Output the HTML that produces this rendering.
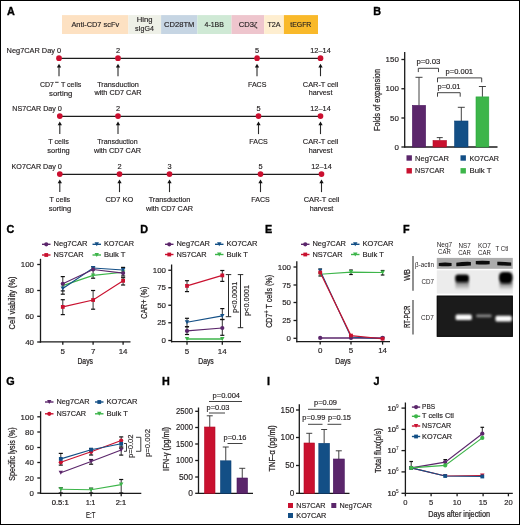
<!DOCTYPE html>
<html><head><meta charset="utf-8"><style>
html,body{margin:0;padding:0;background:#fff;}
svg{display:block;will-change:transform;}
text{font-family:"Liberation Sans",sans-serif;}
</style></head><body>
<svg width="520" height="525" viewBox="0 0 520 525">
<rect x="0" y="0" width="520" height="525" fill="#fff"/>
<rect x="0.5" y="0.5" width="519" height="524" fill="none" stroke="#000" stroke-width="1"/>
<text x="7.1" y="14.8" font-size="10.8" text-anchor="start" fill="#000" font-weight="bold" stroke="#000" stroke-width="0.35">A</text>
<text x="373.2" y="14.8" font-size="10.8" text-anchor="start" fill="#000" font-weight="bold" stroke="#000" stroke-width="0.35">B</text>
<text x="6.4" y="232.9" font-size="10.8" text-anchor="start" fill="#000" font-weight="bold" stroke="#000" stroke-width="0.35">C</text>
<text x="140.2" y="232.9" font-size="10.8" text-anchor="start" fill="#000" font-weight="bold" stroke="#000" stroke-width="0.35">D</text>
<text x="265" y="232.9" font-size="10.8" text-anchor="start" fill="#000" font-weight="bold" stroke="#000" stroke-width="0.35">E</text>
<text x="402.9" y="232.9" font-size="10.8" text-anchor="start" fill="#000" font-weight="bold" stroke="#000" stroke-width="0.35">F</text>
<text x="6.3" y="385.3" font-size="10.8" text-anchor="start" fill="#000" font-weight="bold" stroke="#000" stroke-width="0.35">G</text>
<text x="162.1" y="385.3" font-size="10.8" text-anchor="start" fill="#000" font-weight="bold" stroke="#000" stroke-width="0.35">H</text>
<text x="267.1" y="385.3" font-size="10.8" text-anchor="start" fill="#000" font-weight="bold" stroke="#000" stroke-width="0.35">I</text>
<text x="373.6" y="385.3" font-size="10.8" text-anchor="start" fill="#000" font-weight="bold" stroke="#000" stroke-width="0.35">J</text>
<rect x="62" y="15.1" width="66.4" height="18.9" fill="#fde1c2"/>
<rect x="128.4" y="15.1" width="32.69999999999999" height="18.9" fill="#eef0e7"/>
<rect x="161.1" y="15.1" width="36.30000000000001" height="18.9" fill="#c6d5e3"/>
<rect x="197.4" y="15.1" width="34.099999999999994" height="18.9" fill="#cfe9d5"/>
<rect x="231.5" y="15.1" width="32.69999999999999" height="18.9" fill="#eec5cd"/>
<rect x="264.2" y="15.1" width="19.69999999999999" height="18.9" fill="#feeed0"/>
<rect x="283.9" y="15.1" width="34.10000000000002" height="18.9" fill="#f9b92a"/>
<text x="95.3" y="26.8" font-size="7.92" text-anchor="middle" fill="#231f20" stroke="#231f20" stroke-width="0.16" textLength="47.8" lengthAdjust="spacingAndGlyphs" >Anti-CD7 scFv</text>
<text x="144.7" y="22.4" font-size="7.92" text-anchor="middle" fill="#231f20" stroke="#231f20" stroke-width="0.16" textLength="15.8" lengthAdjust="spacingAndGlyphs" >Hing</text>
<text x="144.5" y="30.9" font-size="7.92" text-anchor="middle" fill="#231f20" stroke="#231f20" stroke-width="0.16" textLength="18.8" lengthAdjust="spacingAndGlyphs" >sIgG4</text>
<text x="179.2" y="26.8" font-size="7.92" text-anchor="middle" fill="#231f20" stroke="#231f20" stroke-width="0.16" textLength="30.3" lengthAdjust="spacingAndGlyphs" >CD28TM</text>
<text x="214.2" y="26.8" font-size="7.92" text-anchor="middle" fill="#231f20" stroke="#231f20" stroke-width="0.16" textLength="19.4" lengthAdjust="spacingAndGlyphs" >4-1BB</text>
<text x="248" y="26.8" font-size="7.92" text-anchor="middle" fill="#231f20" stroke="#231f20" stroke-width="0.16" textLength="18.6" lengthAdjust="spacingAndGlyphs" >CD3ζ</text>
<text x="274" y="26.8" font-size="7.92" text-anchor="middle" fill="#231f20" stroke="#231f20" stroke-width="0.16" textLength="13.2" lengthAdjust="spacingAndGlyphs" >T2A</text>
<text x="300.8" y="26.8" font-size="7.92" text-anchor="middle" fill="#231f20" stroke="#231f20" stroke-width="0.16" textLength="21" lengthAdjust="spacingAndGlyphs" >tEGFR</text>
<line x1="59" y1="58.45" x2="320.5" y2="58.45" stroke="#1c1c1c" stroke-width="1.2"/>
<circle cx="59" cy="58.2" r="2.85" fill="#cb0f2f"/>
<text x="59" y="52.800000000000004" font-size="7.38" text-anchor="middle" fill="#231f20" stroke="#231f20" stroke-width="0.16" >0</text>
<line x1="59" y1="66.7" x2="59" y2="76.2" stroke="#2a2a2a" stroke-width="1.1"/>
<polygon points="56.85,67.4 61.15,67.4 59,63.7" fill="#111"/>
<circle cx="118" cy="58.2" r="2.85" fill="#cb0f2f"/>
<text x="118" y="52.800000000000004" font-size="7.38" text-anchor="middle" fill="#231f20" stroke="#231f20" stroke-width="0.16" >2</text>
<line x1="118" y1="66.7" x2="118" y2="76.2" stroke="#2a2a2a" stroke-width="1.1"/>
<polygon points="115.85,67.4 120.15,67.4 118,63.7" fill="#111"/>
<circle cx="257" cy="58.2" r="2.85" fill="#cb0f2f"/>
<text x="257" y="52.800000000000004" font-size="7.38" text-anchor="middle" fill="#231f20" stroke="#231f20" stroke-width="0.16" >5</text>
<line x1="257" y1="66.7" x2="257" y2="76.2" stroke="#2a2a2a" stroke-width="1.1"/>
<polygon points="254.85,67.4 259.15,67.4 257,63.7" fill="#111"/>
<circle cx="320.5" cy="58.2" r="2.85" fill="#cb0f2f"/>
<text x="320.5" y="52.800000000000004" font-size="7.38" text-anchor="middle" fill="#231f20" stroke="#231f20" stroke-width="0.16" >12–14</text>
<line x1="320.5" y1="66.7" x2="320.5" y2="76.2" stroke="#2a2a2a" stroke-width="1.1"/>
<polygon points="318.35,67.4 322.65,67.4 320.5,63.7" fill="#111"/>
<text x="55" y="52.800000000000004" font-size="7.38" text-anchor="end" fill="#231f20" stroke="#231f20" stroke-width="0.16" textLength="48.4" lengthAdjust="spacingAndGlyphs" >Neg7CAR Day</text>
<text x="40.1" y="87.4" font-size="7.38" text-anchor="start" fill="#231f20" stroke="#231f20" stroke-width="0.16" textLength="13.9" lengthAdjust="spacingAndGlyphs" >CD7</text>
<line x1="55.1" y1="82.30000000000001" x2="58.6" y2="82.30000000000001" stroke="#231f20" stroke-width="0.9"/>
<text x="60.900000000000006" y="87.4" font-size="7.38" text-anchor="start" fill="#231f20" stroke="#231f20" stroke-width="0.16" textLength="20.4" lengthAdjust="spacingAndGlyphs" >T cells</text>
<text x="60.7" y="95.5" font-size="7.38" text-anchor="middle" fill="#231f20" stroke="#231f20" stroke-width="0.16" textLength="23.3" lengthAdjust="spacingAndGlyphs" >sorting</text>
<text x="118" y="86.5" font-size="7.38" text-anchor="middle" fill="#231f20" stroke="#231f20" stroke-width="0.16" textLength="41.7" lengthAdjust="spacingAndGlyphs" >Transduction</text>
<text x="118" y="94.6" font-size="7.38" text-anchor="middle" fill="#231f20" stroke="#231f20" stroke-width="0.16" textLength="47.1" lengthAdjust="spacingAndGlyphs" >with CD7 CAR</text>
<text x="257.2" y="86.5" font-size="7.38" text-anchor="middle" fill="#231f20" stroke="#231f20" stroke-width="0.16" textLength="18.4" lengthAdjust="spacingAndGlyphs" >FACS</text>
<text x="320.6" y="86.5" font-size="7.38" text-anchor="middle" fill="#231f20" stroke="#231f20" stroke-width="0.16" textLength="35.6" lengthAdjust="spacingAndGlyphs" >CAR-T cell</text>
<text x="320.6" y="94.6" font-size="7.38" text-anchor="middle" fill="#231f20" stroke="#231f20" stroke-width="0.16" textLength="23.6" lengthAdjust="spacingAndGlyphs" >harvest</text>
<line x1="59.8" y1="116.35" x2="320.5" y2="116.35" stroke="#1c1c1c" stroke-width="1.2"/>
<circle cx="59.8" cy="116.1" r="2.85" fill="#cb0f2f"/>
<text x="59.8" y="110.69999999999999" font-size="7.38" text-anchor="middle" fill="#231f20" stroke="#231f20" stroke-width="0.16" >0</text>
<line x1="59.8" y1="124.6" x2="59.8" y2="134.1" stroke="#2a2a2a" stroke-width="1.1"/>
<polygon points="57.65,125.3 61.949999999999996,125.3 59.8,121.6" fill="#111"/>
<circle cx="118" cy="116.1" r="2.85" fill="#cb0f2f"/>
<text x="118" y="110.69999999999999" font-size="7.38" text-anchor="middle" fill="#231f20" stroke="#231f20" stroke-width="0.16" >2</text>
<line x1="118" y1="124.6" x2="118" y2="134.1" stroke="#2a2a2a" stroke-width="1.1"/>
<polygon points="115.85,125.3 120.15,125.3 118,121.6" fill="#111"/>
<circle cx="258.5" cy="116.1" r="2.85" fill="#cb0f2f"/>
<text x="258.5" y="110.69999999999999" font-size="7.38" text-anchor="middle" fill="#231f20" stroke="#231f20" stroke-width="0.16" >5</text>
<line x1="258.5" y1="124.6" x2="258.5" y2="134.1" stroke="#2a2a2a" stroke-width="1.1"/>
<polygon points="256.35,125.3 260.65,125.3 258.5,121.6" fill="#111"/>
<circle cx="320.5" cy="116.1" r="2.85" fill="#cb0f2f"/>
<text x="320.5" y="110.69999999999999" font-size="7.38" text-anchor="middle" fill="#231f20" stroke="#231f20" stroke-width="0.16" >12–14</text>
<line x1="320.5" y1="124.6" x2="320.5" y2="134.1" stroke="#2a2a2a" stroke-width="1.1"/>
<polygon points="318.35,125.3 322.65,125.3 320.5,121.6" fill="#111"/>
<text x="55.8" y="110.69999999999999" font-size="7.38" text-anchor="end" fill="#231f20" stroke="#231f20" stroke-width="0.16" textLength="43.5" lengthAdjust="spacingAndGlyphs" >NS7CAR Day</text>
<text x="58.5" y="144.4" font-size="7.38" text-anchor="middle" fill="#231f20" stroke="#231f20" stroke-width="0.16" textLength="20.7" lengthAdjust="spacingAndGlyphs" >T cells</text>
<text x="58.5" y="152.5" font-size="7.38" text-anchor="middle" fill="#231f20" stroke="#231f20" stroke-width="0.16" textLength="22.5" lengthAdjust="spacingAndGlyphs" >sorting</text>
<text x="117.5" y="144.4" font-size="7.38" text-anchor="middle" fill="#231f20" stroke="#231f20" stroke-width="0.16" textLength="40.4" lengthAdjust="spacingAndGlyphs" >Transduction</text>
<text x="117.5" y="152.5" font-size="7.38" text-anchor="middle" fill="#231f20" stroke="#231f20" stroke-width="0.16" textLength="47.1" lengthAdjust="spacingAndGlyphs" >with CD7 CAR</text>
<text x="258.5" y="144.4" font-size="7.38" text-anchor="middle" fill="#231f20" stroke="#231f20" stroke-width="0.16" textLength="18.4" lengthAdjust="spacingAndGlyphs" >FACS</text>
<text x="320.6" y="144.4" font-size="7.38" text-anchor="middle" fill="#231f20" stroke="#231f20" stroke-width="0.16" textLength="35.6" lengthAdjust="spacingAndGlyphs" >CAR-T cell</text>
<text x="320.6" y="152.5" font-size="7.38" text-anchor="middle" fill="#231f20" stroke="#231f20" stroke-width="0.16" textLength="23.6" lengthAdjust="spacingAndGlyphs" >harvest</text>
<line x1="59.8" y1="174.35" x2="321.5" y2="174.35" stroke="#1c1c1c" stroke-width="1.2"/>
<circle cx="59.8" cy="174.1" r="2.85" fill="#cb0f2f"/>
<text x="59.8" y="168.7" font-size="7.38" text-anchor="middle" fill="#231f20" stroke="#231f20" stroke-width="0.16" >0</text>
<line x1="59.8" y1="182.6" x2="59.8" y2="192.1" stroke="#2a2a2a" stroke-width="1.1"/>
<polygon points="57.65,183.29999999999998 61.949999999999996,183.29999999999998 59.8,179.6" fill="#111"/>
<circle cx="119.5" cy="174.1" r="2.85" fill="#cb0f2f"/>
<text x="119.5" y="168.7" font-size="7.38" text-anchor="middle" fill="#231f20" stroke="#231f20" stroke-width="0.16" >2</text>
<line x1="119.5" y1="182.6" x2="119.5" y2="192.1" stroke="#2a2a2a" stroke-width="1.1"/>
<polygon points="117.35,183.29999999999998 121.65,183.29999999999998 119.5,179.6" fill="#111"/>
<circle cx="169.5" cy="174.1" r="2.85" fill="#cb0f2f"/>
<text x="169.5" y="168.7" font-size="7.38" text-anchor="middle" fill="#231f20" stroke="#231f20" stroke-width="0.16" >3</text>
<line x1="169.5" y1="182.6" x2="169.5" y2="192.1" stroke="#2a2a2a" stroke-width="1.1"/>
<polygon points="167.35,183.29999999999998 171.65,183.29999999999998 169.5,179.6" fill="#111"/>
<circle cx="260.5" cy="174.1" r="2.85" fill="#cb0f2f"/>
<text x="260.5" y="168.7" font-size="7.38" text-anchor="middle" fill="#231f20" stroke="#231f20" stroke-width="0.16" >5</text>
<line x1="260.5" y1="182.6" x2="260.5" y2="192.1" stroke="#2a2a2a" stroke-width="1.1"/>
<polygon points="258.35,183.29999999999998 262.65,183.29999999999998 260.5,179.6" fill="#111"/>
<circle cx="321.5" cy="174.1" r="2.85" fill="#cb0f2f"/>
<text x="321.5" y="168.7" font-size="7.38" text-anchor="middle" fill="#231f20" stroke="#231f20" stroke-width="0.16" >12–14</text>
<line x1="321.5" y1="182.6" x2="321.5" y2="192.1" stroke="#2a2a2a" stroke-width="1.1"/>
<polygon points="319.35,183.29999999999998 323.65,183.29999999999998 321.5,179.6" fill="#111"/>
<text x="55.8" y="168.7" font-size="7.38" text-anchor="end" fill="#231f20" stroke="#231f20" stroke-width="0.16" textLength="44.2" lengthAdjust="spacingAndGlyphs" >KO7CAR Day</text>
<text x="59.9" y="202.4" font-size="7.38" text-anchor="middle" fill="#231f20" stroke="#231f20" stroke-width="0.16" textLength="20.6" lengthAdjust="spacingAndGlyphs" >T cells</text>
<text x="59.9" y="210.5" font-size="7.38" text-anchor="middle" fill="#231f20" stroke="#231f20" stroke-width="0.16" textLength="22.5" lengthAdjust="spacingAndGlyphs" >sorting</text>
<text x="119.4" y="202.4" font-size="7.38" text-anchor="middle" fill="#231f20" stroke="#231f20" stroke-width="0.16" textLength="27.9" lengthAdjust="spacingAndGlyphs" >CD7 KO</text>
<text x="169.5" y="202.4" font-size="7.38" text-anchor="middle" fill="#231f20" stroke="#231f20" stroke-width="0.16" textLength="41.7" lengthAdjust="spacingAndGlyphs" >Transduction</text>
<text x="169.5" y="210.5" font-size="7.38" text-anchor="middle" fill="#231f20" stroke="#231f20" stroke-width="0.16" textLength="47.1" lengthAdjust="spacingAndGlyphs" >with CD7 CAR</text>
<text x="260.5" y="202.4" font-size="7.38" text-anchor="middle" fill="#231f20" stroke="#231f20" stroke-width="0.16" textLength="18.4" lengthAdjust="spacingAndGlyphs" >FACS</text>
<text x="321.5" y="202.4" font-size="7.38" text-anchor="middle" fill="#231f20" stroke="#231f20" stroke-width="0.16" textLength="35.6" lengthAdjust="spacingAndGlyphs" >CAR-T cell</text>
<text x="321.5" y="210.5" font-size="7.38" text-anchor="middle" fill="#231f20" stroke="#231f20" stroke-width="0.16" textLength="23.6" lengthAdjust="spacingAndGlyphs" >harvest</text>
<line x1="404.7" y1="52" x2="404.7" y2="147.65" stroke="#1a1a1a" stroke-width="1.3"/>
<line x1="401.4" y1="59.5" x2="404.7" y2="59.5" stroke="#1a1a1a" stroke-width="1.3"/>
<text x="398.8" y="62.2" font-size="7.92" text-anchor="end" fill="#231f20" stroke="#231f20" stroke-width="0.16" >150</text>
<line x1="401.4" y1="88.75" x2="404.7" y2="88.75" stroke="#1a1a1a" stroke-width="1.3"/>
<text x="398.8" y="91.45" font-size="7.92" text-anchor="end" fill="#231f20" stroke="#231f20" stroke-width="0.16" >100</text>
<line x1="401.4" y1="118" x2="404.7" y2="118" stroke="#1a1a1a" stroke-width="1.3"/>
<text x="398.8" y="120.7" font-size="7.92" text-anchor="end" fill="#231f20" stroke="#231f20" stroke-width="0.16" >50</text>
<line x1="401.4" y1="147" x2="404.7" y2="147" stroke="#1a1a1a" stroke-width="1.3"/>
<text x="398.8" y="149.7" font-size="7.92" text-anchor="end" fill="#231f20" stroke="#231f20" stroke-width="0.16" >0</text>
<line x1="404.7" y1="147" x2="497.5" y2="147" stroke="#1a1a1a" stroke-width="1.3"/>
<line x1="419.0" y1="105.4" x2="419.0" y2="77.3" stroke="#2e2e2e" stroke-width="0.9"/>
<line x1="415.5" y1="77.3" x2="422.5" y2="77.3" stroke="#2e2e2e" stroke-width="0.9"/>
<rect x="412.4" y="105.4" width="13.200000000000045" height="41.599999999999994" fill="#5b266b" stroke="#4a165f" stroke-width="0.6"/>
<line x1="439.75" y1="140.5" x2="439.75" y2="137.6" stroke="#2e2e2e" stroke-width="0.9"/>
<line x1="436.75" y1="137.6" x2="442.75" y2="137.6" stroke="#2e2e2e" stroke-width="0.9"/>
<rect x="433" y="140.5" width="13.5" height="6.5" fill="#c9112f" stroke="#b30c27" stroke-width="0.6"/>
<line x1="461.3" y1="121" x2="461.3" y2="107.3" stroke="#2e2e2e" stroke-width="0.9"/>
<line x1="457.8" y1="107.3" x2="464.8" y2="107.3" stroke="#2e2e2e" stroke-width="0.9"/>
<rect x="454.6" y="121" width="13.399999999999977" height="26" fill="#134f86" stroke="#0c4277" stroke-width="0.6"/>
<line x1="482.4" y1="96.9" x2="482.4" y2="86.5" stroke="#2e2e2e" stroke-width="0.9"/>
<line x1="478.9" y1="86.5" x2="485.9" y2="86.5" stroke="#2e2e2e" stroke-width="0.9"/>
<rect x="476" y="96.9" width="12.800000000000011" height="50.099999999999994" fill="#3db54a" stroke="#25a538" stroke-width="0.6"/>
<polyline points="418.3,72.1 418.3,68.3 438.5,68.3 438.5,72.1" fill="none" stroke="#2e2e2e" stroke-width="0.9"/>
<text x="428.4" y="64.4" font-size="7.28" text-anchor="middle" fill="#231f20" stroke="#231f20" stroke-width="0.16" textLength="24" lengthAdjust="spacingAndGlyphs" >p=0.03</text>
<polyline points="437.5,82.30000000000001 437.5,77.9 481.7,77.9 481.7,82.30000000000001" fill="none" stroke="#2e2e2e" stroke-width="0.9"/>
<text x="459.3" y="74" font-size="7.28" text-anchor="middle" fill="#231f20" stroke="#231f20" stroke-width="0.16" textLength="27.5" lengthAdjust="spacingAndGlyphs" >p=0.001</text>
<polyline points="437.5,96.7 437.5,92.7 460.2,92.7 460.2,96.7" fill="none" stroke="#2e2e2e" stroke-width="0.9"/>
<text x="449" y="88.5" font-size="7.28" text-anchor="middle" fill="#231f20" stroke="#231f20" stroke-width="0.16" textLength="23" lengthAdjust="spacingAndGlyphs" >p=0.01</text>
<text x="380" y="100" font-size="8.4" text-anchor="middle" fill="#231f20" stroke="#231f20" stroke-width="0.24" textLength="62" lengthAdjust="spacingAndGlyphs" transform="rotate(-90 380 100)" >Folds of expansion</text>
<rect x="406.5" y="155.3" width="5.4" height="5.4" fill="#5b266b"/>
<text x="415" y="160.5" font-size="7.49" text-anchor="start" fill="#231f20" stroke="#231f20" stroke-width="0.16" textLength="34" lengthAdjust="spacingAndGlyphs" >Neg7CAR</text>
<rect x="460.5" y="155.3" width="5.4" height="5.4" fill="#134f86"/>
<text x="469.5" y="160.5" font-size="7.49" text-anchor="start" fill="#231f20" stroke="#231f20" stroke-width="0.16" textLength="29.5" lengthAdjust="spacingAndGlyphs" >KO7CAR</text>
<rect x="406.5" y="168.10000000000002" width="5.4" height="5.4" fill="#c9112f"/>
<text x="415" y="173.3" font-size="7.49" text-anchor="start" fill="#231f20" stroke="#231f20" stroke-width="0.16" textLength="29.5" lengthAdjust="spacingAndGlyphs" >NS7CAR</text>
<rect x="460.5" y="168.10000000000002" width="5.4" height="5.4" fill="#3db54a"/>
<text x="469.5" y="173.3" font-size="7.49" text-anchor="start" fill="#231f20" stroke="#231f20" stroke-width="0.16" textLength="22" lengthAdjust="spacingAndGlyphs" >Bulk T</text>
<line x1="40.5" y1="258.8" x2="40.5" y2="342.65" stroke="#1a1a1a" stroke-width="1.3"/>
<line x1="37.2" y1="264.5" x2="40.5" y2="264.5" stroke="#1a1a1a" stroke-width="1.3"/>
<text x="34" y="267.2" font-size="7.92" text-anchor="end" fill="#231f20" stroke="#231f20" stroke-width="0.16" >100</text>
<line x1="37.2" y1="290.5" x2="40.5" y2="290.5" stroke="#1a1a1a" stroke-width="1.3"/>
<text x="34" y="293.2" font-size="7.92" text-anchor="end" fill="#231f20" stroke="#231f20" stroke-width="0.16" >80</text>
<line x1="37.2" y1="316.3" x2="40.5" y2="316.3" stroke="#1a1a1a" stroke-width="1.3"/>
<text x="34" y="319.0" font-size="7.92" text-anchor="end" fill="#231f20" stroke="#231f20" stroke-width="0.16" >60</text>
<line x1="37.2" y1="342" x2="40.5" y2="342" stroke="#1a1a1a" stroke-width="1.3"/>
<text x="34" y="344.7" font-size="7.92" text-anchor="end" fill="#231f20" stroke="#231f20" stroke-width="0.16" >40</text>
<line x1="39.85" y1="341.8" x2="130.5" y2="341.8" stroke="#1a1a1a" stroke-width="1.3"/>
<line x1="62.8" y1="341.8" x2="62.8" y2="344.8" stroke="#1a1a1a" stroke-width="1.3"/>
<text x="62.8" y="353.5" font-size="7.97" text-anchor="middle" fill="#231f20" stroke="#231f20" stroke-width="0.16" >5</text>
<line x1="93.1" y1="341.8" x2="93.1" y2="344.8" stroke="#1a1a1a" stroke-width="1.3"/>
<text x="93.1" y="353.5" font-size="7.97" text-anchor="middle" fill="#231f20" stroke="#231f20" stroke-width="0.16" >7</text>
<line x1="123.1" y1="341.8" x2="123.1" y2="344.8" stroke="#1a1a1a" stroke-width="1.3"/>
<text x="123.1" y="353.5" font-size="7.97" text-anchor="middle" fill="#231f20" stroke="#231f20" stroke-width="0.16" >14</text>
<text x="14.7" y="302.9" font-size="8.4" text-anchor="middle" fill="#231f20" stroke="#231f20" stroke-width="0.24" textLength="53" lengthAdjust="spacingAndGlyphs" transform="rotate(-90 14.7 302.9)" >Cell viability (%)</text>
<text x="85.2" y="363.7" font-size="8.6" text-anchor="middle" fill="#231f20" stroke="#231f20" stroke-width="0.24" textLength="15.5" lengthAdjust="spacingAndGlyphs" >Days</text>
<line x1="62.8" y1="276.6" x2="62.8" y2="294.2" stroke="#333" stroke-width="1.0"/>
<line x1="60.75" y1="276.6" x2="64.85" y2="276.6" stroke="#111" stroke-width="1.2"/>
<line x1="60.75" y1="294.2" x2="64.85" y2="294.2" stroke="#111" stroke-width="1.2"/>
<line x1="62.8" y1="299.7" x2="62.8" y2="314.6" stroke="#333" stroke-width="1.0"/>
<line x1="60.75" y1="299.7" x2="64.85" y2="299.7" stroke="#111" stroke-width="1.2"/>
<line x1="60.75" y1="314.6" x2="64.85" y2="314.6" stroke="#111" stroke-width="1.2"/>
<line x1="93.1" y1="266.9" x2="93.1" y2="278.2" stroke="#333" stroke-width="1.0"/>
<line x1="91.05" y1="266.9" x2="95.14999999999999" y2="266.9" stroke="#111" stroke-width="1.2"/>
<line x1="91.05" y1="278.2" x2="95.14999999999999" y2="278.2" stroke="#111" stroke-width="1.2"/>
<line x1="93.1" y1="290.5" x2="93.1" y2="309.2" stroke="#333" stroke-width="1.0"/>
<line x1="91.05" y1="290.5" x2="95.14999999999999" y2="290.5" stroke="#111" stroke-width="1.2"/>
<line x1="91.05" y1="309.2" x2="95.14999999999999" y2="309.2" stroke="#111" stroke-width="1.2"/>
<line x1="123.1" y1="267.4" x2="123.1" y2="276" stroke="#333" stroke-width="1.0"/>
<line x1="121.05" y1="267.4" x2="125.14999999999999" y2="267.4" stroke="#111" stroke-width="1.2"/>
<line x1="121.05" y1="276" x2="125.14999999999999" y2="276" stroke="#111" stroke-width="1.2"/>
<line x1="123.1" y1="277.7" x2="123.1" y2="285" stroke="#333" stroke-width="1.0"/>
<line x1="121.05" y1="277.7" x2="125.14999999999999" y2="277.7" stroke="#111" stroke-width="1.2"/>
<line x1="121.05" y1="285" x2="125.14999999999999" y2="285" stroke="#111" stroke-width="1.2"/>
<line x1="60.75" y1="290.9" x2="64.85" y2="290.9" stroke="#111" stroke-width="1.2"/>
<polyline points="62.8,285.6 93.1,275.4 123.1,272.3" fill="none" stroke="#3db54a" stroke-width="1.15"/>
<polygon points="60.599999999999994,283.62 65.0,283.62 62.8,287.58000000000004" fill="#3db54a"/>
<polygon points="90.89999999999999,273.41999999999996 95.3,273.41999999999996 93.1,277.38" fill="#3db54a"/>
<polygon points="120.89999999999999,270.32 125.3,270.32 123.1,274.28000000000003" fill="#3db54a"/>
<polyline points="62.8,288.5 93.1,268 123.1,270" fill="none" stroke="#134f86" stroke-width="1.15"/>
<polygon points="60.599999999999994,286.52 65.0,286.52 62.8,290.48" fill="#134f86"/>
<polygon points="90.89999999999999,266.02 95.3,266.02 93.1,269.98" fill="#134f86"/>
<polygon points="120.89999999999999,268.02 125.3,268.02 123.1,271.98" fill="#134f86"/>
<polyline points="62.8,283.8 93.1,269.5 123.1,273.1" fill="none" stroke="#5b266b" stroke-width="1.15"/>
<circle cx="62.8" cy="283.8" r="2.1" fill="#5b266b"/>
<circle cx="93.1" cy="269.5" r="2.1" fill="#5b266b"/>
<circle cx="123.1" cy="273.1" r="2.1" fill="#5b266b"/>
<polyline points="62.8,306.9 93.1,300 123.1,280.8" fill="none" stroke="#c9112f" stroke-width="1.15"/>
<rect x="60.9" y="305.0" width="3.8" height="3.8" fill="#c9112f"/>
<rect x="91.19999999999999" y="298.1" width="3.8" height="3.8" fill="#c9112f"/>
<rect x="121.19999999999999" y="278.90000000000003" width="3.8" height="3.8" fill="#c9112f"/>
<line x1="42" y1="244.3" x2="50.5" y2="244.3" stroke="#5b266b" stroke-width="1.4"/>
<circle cx="46.25" cy="244.3" r="2.1" fill="#5b266b"/>
<text x="53.5" y="246.3" font-size="7.49" text-anchor="start" fill="#231f20" stroke="#231f20" stroke-width="0.16" textLength="34" lengthAdjust="spacingAndGlyphs" >Neg7CAR</text>
<line x1="92.5" y1="244.3" x2="101.0" y2="244.3" stroke="#134f86" stroke-width="1.4"/>
<polygon points="94.55,242.32000000000002 98.95,242.32000000000002 96.75,246.28" fill="#134f86"/>
<text x="104.0" y="246.3" font-size="7.49" text-anchor="start" fill="#231f20" stroke="#231f20" stroke-width="0.16" textLength="30" lengthAdjust="spacingAndGlyphs" >KO7CAR</text>
<line x1="42" y1="255" x2="50.5" y2="255" stroke="#c9112f" stroke-width="1.4"/>
<rect x="44.35" y="253.1" width="3.8" height="3.8" fill="#c9112f"/>
<text x="53.5" y="257.0" font-size="7.49" text-anchor="start" fill="#231f20" stroke="#231f20" stroke-width="0.16" textLength="30" lengthAdjust="spacingAndGlyphs" >NS7CAR</text>
<line x1="92.5" y1="255" x2="101.0" y2="255" stroke="#3db54a" stroke-width="1.4"/>
<polygon points="94.55,253.02 98.95,253.02 96.75,256.98" fill="#3db54a"/>
<text x="104.0" y="257.0" font-size="7.49" text-anchor="start" fill="#231f20" stroke="#231f20" stroke-width="0.16" textLength="21.5" lengthAdjust="spacingAndGlyphs" >Bulk T</text>
<line x1="165" y1="244.3" x2="173.5" y2="244.3" stroke="#5b266b" stroke-width="1.4"/>
<circle cx="169.25" cy="244.3" r="2.1" fill="#5b266b"/>
<text x="176.5" y="246.3" font-size="7.49" text-anchor="start" fill="#231f20" stroke="#231f20" stroke-width="0.16" textLength="33.5" lengthAdjust="spacingAndGlyphs" >Neg7CAR</text>
<line x1="215" y1="244.3" x2="223.5" y2="244.3" stroke="#134f86" stroke-width="1.4"/>
<polygon points="217.05,242.32000000000002 221.45,242.32000000000002 219.25,246.28" fill="#134f86"/>
<text x="226.5" y="246.3" font-size="7.49" text-anchor="start" fill="#231f20" stroke="#231f20" stroke-width="0.16" textLength="31" lengthAdjust="spacingAndGlyphs" >KO7CAR</text>
<line x1="165" y1="254.5" x2="173.5" y2="254.5" stroke="#c9112f" stroke-width="1.4"/>
<rect x="167.35" y="252.6" width="3.8" height="3.8" fill="#c9112f"/>
<text x="176.5" y="256.5" font-size="7.49" text-anchor="start" fill="#231f20" stroke="#231f20" stroke-width="0.16" textLength="30" lengthAdjust="spacingAndGlyphs" >NS7CAR</text>
<line x1="215" y1="254.5" x2="223.5" y2="254.5" stroke="#3db54a" stroke-width="1.4"/>
<polygon points="217.05,252.52 221.45,252.52 219.25,256.48" fill="#3db54a"/>
<text x="226.5" y="256.5" font-size="7.49" text-anchor="start" fill="#231f20" stroke="#231f20" stroke-width="0.16" textLength="21.5" lengthAdjust="spacingAndGlyphs" >Bulk T</text>
<line x1="301" y1="244.3" x2="309.5" y2="244.3" stroke="#5b266b" stroke-width="1.4"/>
<circle cx="305.25" cy="244.3" r="2.1" fill="#5b266b"/>
<text x="312.5" y="246.3" font-size="7.49" text-anchor="start" fill="#231f20" stroke="#231f20" stroke-width="0.16" textLength="33.5" lengthAdjust="spacingAndGlyphs" >Neg7CAR</text>
<line x1="351" y1="244.3" x2="359.5" y2="244.3" stroke="#134f86" stroke-width="1.4"/>
<polygon points="353.05,242.32000000000002 357.45,242.32000000000002 355.25,246.28" fill="#134f86"/>
<text x="362.5" y="246.3" font-size="7.49" text-anchor="start" fill="#231f20" stroke="#231f20" stroke-width="0.16" textLength="31" lengthAdjust="spacingAndGlyphs" >KO7CAR</text>
<line x1="301" y1="254.5" x2="309.5" y2="254.5" stroke="#c9112f" stroke-width="1.4"/>
<rect x="303.35" y="252.6" width="3.8" height="3.8" fill="#c9112f"/>
<text x="312.5" y="256.5" font-size="7.49" text-anchor="start" fill="#231f20" stroke="#231f20" stroke-width="0.16" textLength="30" lengthAdjust="spacingAndGlyphs" >NS7CAR</text>
<line x1="351" y1="254.5" x2="359.5" y2="254.5" stroke="#3db54a" stroke-width="1.4"/>
<polygon points="353.05,252.52 357.45,252.52 355.25,256.48" fill="#3db54a"/>
<text x="362.5" y="256.5" font-size="7.49" text-anchor="start" fill="#231f20" stroke="#231f20" stroke-width="0.16" textLength="21.5" lengthAdjust="spacingAndGlyphs" >Bulk T</text>
<line x1="171.6" y1="264.5" x2="171.6" y2="342.34999999999997" stroke="#1a1a1a" stroke-width="1.3"/>
<line x1="168.29999999999998" y1="270.25" x2="171.6" y2="270.25" stroke="#1a1a1a" stroke-width="1.3"/>
<text x="166" y="272.95" font-size="7.92" text-anchor="end" fill="#231f20" stroke="#231f20" stroke-width="0.16" >100</text>
<line x1="168.29999999999998" y1="287.75" x2="171.6" y2="287.75" stroke="#1a1a1a" stroke-width="1.3"/>
<text x="166" y="290.45" font-size="7.92" text-anchor="end" fill="#231f20" stroke="#231f20" stroke-width="0.16" >75</text>
<line x1="168.29999999999998" y1="305.25" x2="171.6" y2="305.25" stroke="#1a1a1a" stroke-width="1.3"/>
<text x="166" y="307.95" font-size="7.92" text-anchor="end" fill="#231f20" stroke="#231f20" stroke-width="0.16" >50</text>
<line x1="168.29999999999998" y1="322.75" x2="171.6" y2="322.75" stroke="#1a1a1a" stroke-width="1.3"/>
<text x="166" y="325.45" font-size="7.92" text-anchor="end" fill="#231f20" stroke="#231f20" stroke-width="0.16" >25</text>
<line x1="168.29999999999998" y1="340.5" x2="171.6" y2="340.5" stroke="#1a1a1a" stroke-width="1.3"/>
<text x="166" y="343.2" font-size="7.92" text-anchor="end" fill="#231f20" stroke="#231f20" stroke-width="0.16" >0</text>
<line x1="170.95" y1="341.7" x2="241" y2="341.7" stroke="#1a1a1a" stroke-width="1.3"/>
<line x1="187" y1="341.7" x2="187" y2="344.7" stroke="#1a1a1a" stroke-width="1.3"/>
<text x="187" y="353.5" font-size="7.97" text-anchor="middle" fill="#231f20" stroke="#231f20" stroke-width="0.16" >5</text>
<line x1="222.3" y1="341.7" x2="222.3" y2="344.7" stroke="#1a1a1a" stroke-width="1.3"/>
<text x="222.3" y="353.5" font-size="7.97" text-anchor="middle" fill="#231f20" stroke="#231f20" stroke-width="0.16" >14</text>
<text x="147" y="302.7" font-size="8.4" text-anchor="middle" fill="#231f20" stroke="#231f20" stroke-width="0.24" textLength="32" lengthAdjust="spacingAndGlyphs" transform="rotate(-90 147 302.7)" >CAR+ (%)</text>
<text x="206" y="363.7" font-size="8.6" text-anchor="middle" fill="#231f20" stroke="#231f20" stroke-width="0.24" textLength="15.5" lengthAdjust="spacingAndGlyphs" >Days</text>
<line x1="187" y1="280.7" x2="187" y2="291.6" stroke="#333" stroke-width="1.0"/>
<line x1="184.95" y1="280.7" x2="189.05" y2="280.7" stroke="#111" stroke-width="1.2"/>
<line x1="184.95" y1="291.6" x2="189.05" y2="291.6" stroke="#111" stroke-width="1.2"/>
<line x1="222.3" y1="270.5" x2="222.3" y2="281.4" stroke="#333" stroke-width="1.0"/>
<line x1="220.25" y1="270.5" x2="224.35000000000002" y2="270.5" stroke="#111" stroke-width="1.2"/>
<line x1="220.25" y1="281.4" x2="224.35000000000002" y2="281.4" stroke="#111" stroke-width="1.2"/>
<line x1="187" y1="318.3" x2="187" y2="326.7" stroke="#333" stroke-width="1.0"/>
<line x1="184.95" y1="318.3" x2="189.05" y2="318.3" stroke="#111" stroke-width="1.2"/>
<line x1="184.95" y1="326.7" x2="189.05" y2="326.7" stroke="#111" stroke-width="1.2"/>
<line x1="222.3" y1="308.6" x2="222.3" y2="319.4" stroke="#333" stroke-width="1.0"/>
<line x1="220.25" y1="308.6" x2="224.35000000000002" y2="308.6" stroke="#111" stroke-width="1.2"/>
<line x1="220.25" y1="319.4" x2="224.35000000000002" y2="319.4" stroke="#111" stroke-width="1.2"/>
<line x1="187" y1="326.7" x2="187" y2="334.5" stroke="#333" stroke-width="1.0"/>
<line x1="184.95" y1="326.7" x2="189.05" y2="326.7" stroke="#111" stroke-width="1.2"/>
<line x1="184.95" y1="334.5" x2="189.05" y2="334.5" stroke="#111" stroke-width="1.2"/>
<line x1="222.3" y1="319.6" x2="222.3" y2="335.3" stroke="#333" stroke-width="1.0"/>
<line x1="220.25" y1="319.6" x2="224.35000000000002" y2="319.6" stroke="#111" stroke-width="1.2"/>
<line x1="220.25" y1="335.3" x2="224.35000000000002" y2="335.3" stroke="#111" stroke-width="1.2"/>
<polyline points="187,339 222.3,339" fill="none" stroke="#3db54a" stroke-width="1.6"/>
<polygon points="184.8,337.02 189.2,337.02 187,340.98" fill="#3db54a"/>
<polygon points="220.10000000000002,337.02 224.5,337.02 222.3,340.98" fill="#3db54a"/>
<polyline points="187,330.9 222.3,328" fill="none" stroke="#5b266b" stroke-width="1.15"/>
<circle cx="187" cy="330.9" r="2.1" fill="#5b266b"/>
<circle cx="222.3" cy="328" r="2.1" fill="#5b266b"/>
<polyline points="187,322.3 222.3,315.9" fill="none" stroke="#134f86" stroke-width="1.15"/>
<polygon points="184.8,320.32 189.2,320.32 187,324.28000000000003" fill="#134f86"/>
<polygon points="220.10000000000002,313.91999999999996 224.5,313.91999999999996 222.3,317.88" fill="#134f86"/>
<polyline points="187,285.9 222.3,275.4" fill="none" stroke="#c9112f" stroke-width="1.15"/>
<rect x="185.1" y="284.0" width="3.8" height="3.8" fill="#c9112f"/>
<rect x="220.4" y="273.5" width="3.8" height="3.8" fill="#c9112f"/>
<line x1="228.5" y1="274.6" x2="228.5" y2="316.7" stroke="#2a2a2a" stroke-width="1.0"/>
<line x1="225.75" y1="274.6" x2="231.25" y2="274.6" stroke="#2a2a2a" stroke-width="1.0"/>
<line x1="225.75" y1="316.7" x2="231.25" y2="316.7" stroke="#2a2a2a" stroke-width="1.0"/>
<text x="237.2" y="297.3" font-size="7.28" text-anchor="middle" fill="#231f20" stroke="#231f20" stroke-width="0.16" textLength="31.3" lengthAdjust="spacingAndGlyphs" transform="rotate(-90 237.2 297.3)" >p&lt;0.0001</text>
<line x1="240.5" y1="274.6" x2="240.5" y2="327.7" stroke="#2a2a2a" stroke-width="1.0"/>
<line x1="237.75" y1="274.6" x2="243.25" y2="274.6" stroke="#2a2a2a" stroke-width="1.0"/>
<line x1="237.75" y1="327.7" x2="243.25" y2="327.7" stroke="#2a2a2a" stroke-width="1.0"/>
<text x="249" y="300.5" font-size="7.28" text-anchor="middle" fill="#231f20" stroke="#231f20" stroke-width="0.16" textLength="31" lengthAdjust="spacingAndGlyphs" transform="rotate(-90 249 300.5)" >p&lt;0.0001</text>
<line x1="296.8" y1="261.3" x2="296.8" y2="342.25" stroke="#1a1a1a" stroke-width="1.3"/>
<line x1="293.5" y1="267" x2="296.8" y2="267" stroke="#1a1a1a" stroke-width="1.3"/>
<text x="291" y="269.7" font-size="7.92" text-anchor="end" fill="#231f20" stroke="#231f20" stroke-width="0.16" >100</text>
<line x1="293.5" y1="285" x2="296.8" y2="285" stroke="#1a1a1a" stroke-width="1.3"/>
<text x="291" y="287.7" font-size="7.92" text-anchor="end" fill="#231f20" stroke="#231f20" stroke-width="0.16" >75</text>
<line x1="293.5" y1="302.5" x2="296.8" y2="302.5" stroke="#1a1a1a" stroke-width="1.3"/>
<text x="291" y="305.2" font-size="7.92" text-anchor="end" fill="#231f20" stroke="#231f20" stroke-width="0.16" >50</text>
<line x1="293.5" y1="320.5" x2="296.8" y2="320.5" stroke="#1a1a1a" stroke-width="1.3"/>
<text x="291" y="323.2" font-size="7.92" text-anchor="end" fill="#231f20" stroke="#231f20" stroke-width="0.16" >25</text>
<line x1="293.5" y1="338.3" x2="296.8" y2="338.3" stroke="#1a1a1a" stroke-width="1.3"/>
<text x="291" y="341.0" font-size="7.92" text-anchor="end" fill="#231f20" stroke="#231f20" stroke-width="0.16" >0</text>
<line x1="296.15000000000003" y1="341.6" x2="390" y2="341.6" stroke="#1a1a1a" stroke-width="1.3"/>
<line x1="320.2" y1="341.6" x2="320.2" y2="344.6" stroke="#1a1a1a" stroke-width="1.3"/>
<text x="320.2" y="353" font-size="7.97" text-anchor="middle" fill="#231f20" stroke="#231f20" stroke-width="0.16" >0</text>
<line x1="351" y1="341.6" x2="351" y2="344.6" stroke="#1a1a1a" stroke-width="1.3"/>
<text x="351" y="353" font-size="7.97" text-anchor="middle" fill="#231f20" stroke="#231f20" stroke-width="0.16" >5</text>
<line x1="382.6" y1="341.6" x2="382.6" y2="344.6" stroke="#1a1a1a" stroke-width="1.3"/>
<text x="382.6" y="353" font-size="7.97" text-anchor="middle" fill="#231f20" stroke="#231f20" stroke-width="0.16" >14</text>
<text x="272.1" y="301.4" font-size="8.4" text-anchor="middle" fill="#231f20" stroke="#231f20" stroke-width="0.24" textLength="52.9" lengthAdjust="spacingAndGlyphs" transform="rotate(-90 272.1 301.4)" >CD7<tspan font-size="6.6" dy="-3.2">+</tspan><tspan dy="3.2"> T cells (%)</tspan></text>
<text x="343" y="363.7" font-size="8.6" text-anchor="middle" fill="#231f20" stroke="#231f20" stroke-width="0.24" textLength="15.5" lengthAdjust="spacingAndGlyphs" >Days</text>
<line x1="351" y1="270" x2="351" y2="274.5" stroke="#333" stroke-width="1.0"/>
<line x1="349.2" y1="270" x2="352.8" y2="270" stroke="#111" stroke-width="1.2"/>
<line x1="349.2" y1="274.5" x2="352.8" y2="274.5" stroke="#111" stroke-width="1.2"/>
<line x1="382.6" y1="270.5" x2="382.6" y2="275" stroke="#333" stroke-width="1.0"/>
<line x1="380.8" y1="270.5" x2="384.40000000000003" y2="270.5" stroke="#111" stroke-width="1.2"/>
<line x1="380.8" y1="275" x2="384.40000000000003" y2="275" stroke="#111" stroke-width="1.2"/>
<line x1="320.2" y1="269" x2="320.2" y2="276" stroke="#333" stroke-width="1.0"/>
<line x1="318.4" y1="269" x2="322.0" y2="269" stroke="#111" stroke-width="1.2"/>
<line x1="318.4" y1="276" x2="322.0" y2="276" stroke="#111" stroke-width="1.2"/>
<polyline points="320.2,274.2 351,272.1 382.6,272.5" fill="none" stroke="#3db54a" stroke-width="1.15"/>
<polygon points="318.0,272.21999999999997 322.4,272.21999999999997 320.2,276.18" fill="#3db54a"/>
<polygon points="348.8,270.12 353.2,270.12 351,274.08000000000004" fill="#3db54a"/>
<polygon points="380.40000000000003,270.52 384.8,270.52 382.6,274.48" fill="#3db54a"/>
<polyline points="320.2,337.9 351,337.9 382.6,337.9" fill="none" stroke="#5b266b" stroke-width="1.5"/>
<circle cx="320.2" cy="337.9" r="2.1" fill="#5b266b"/>
<circle cx="351" cy="337.9" r="2.1" fill="#5b266b"/>
<circle cx="382.6" cy="337.9" r="2.1" fill="#5b266b"/>
<polyline points="320.2,270.7 351,337 382.6,338.7" fill="none" stroke="#134f86" stroke-width="1.15"/>
<polygon points="318.0,268.71999999999997 322.4,268.71999999999997 320.2,272.68" fill="#134f86"/>
<polygon points="348.8,335.02 353.2,335.02 351,338.98" fill="#134f86"/>
<polygon points="380.40000000000003,336.71999999999997 384.8,336.71999999999997 382.6,340.68" fill="#134f86"/>
<polyline points="320.2,272.5 351,335.6 382.6,338.7" fill="none" stroke="#c9112f" stroke-width="1.15"/>
<rect x="318.3" y="270.6" width="3.8" height="3.8" fill="#c9112f"/>
<rect x="349.1" y="333.70000000000005" width="3.8" height="3.8" fill="#c9112f"/>
<rect x="380.70000000000005" y="336.8" width="3.8" height="3.8" fill="#c9112f"/>
<line x1="40.6" y1="411.3" x2="40.6" y2="493.95" stroke="#1a1a1a" stroke-width="1.3"/>
<line x1="37.300000000000004" y1="416.8" x2="40.6" y2="416.8" stroke="#1a1a1a" stroke-width="1.3"/>
<text x="33.8" y="419.5" font-size="7.92" text-anchor="end" fill="#231f20" stroke="#231f20" stroke-width="0.16" >100</text>
<line x1="37.300000000000004" y1="432" x2="40.6" y2="432" stroke="#1a1a1a" stroke-width="1.3"/>
<text x="33.8" y="434.7" font-size="7.92" text-anchor="end" fill="#231f20" stroke="#231f20" stroke-width="0.16" >80</text>
<line x1="37.300000000000004" y1="447.5" x2="40.6" y2="447.5" stroke="#1a1a1a" stroke-width="1.3"/>
<text x="33.8" y="450.2" font-size="7.92" text-anchor="end" fill="#231f20" stroke="#231f20" stroke-width="0.16" >60</text>
<line x1="37.300000000000004" y1="462.5" x2="40.6" y2="462.5" stroke="#1a1a1a" stroke-width="1.3"/>
<text x="33.8" y="465.2" font-size="7.92" text-anchor="end" fill="#231f20" stroke="#231f20" stroke-width="0.16" >40</text>
<line x1="37.300000000000004" y1="478" x2="40.6" y2="478" stroke="#1a1a1a" stroke-width="1.3"/>
<text x="33.8" y="480.7" font-size="7.92" text-anchor="end" fill="#231f20" stroke="#231f20" stroke-width="0.16" >20</text>
<line x1="37.300000000000004" y1="493" x2="40.6" y2="493" stroke="#1a1a1a" stroke-width="1.3"/>
<text x="33.8" y="495.7" font-size="7.92" text-anchor="end" fill="#231f20" stroke="#231f20" stroke-width="0.16" >0</text>
<line x1="39.95" y1="493.3" x2="141.3" y2="493.3" stroke="#1a1a1a" stroke-width="1.3"/>
<line x1="60.8" y1="493.3" x2="60.8" y2="496.3" stroke="#1a1a1a" stroke-width="1.3"/>
<line x1="91.1" y1="493.3" x2="91.1" y2="496.3" stroke="#1a1a1a" stroke-width="1.3"/>
<line x1="121.2" y1="493.3" x2="121.2" y2="496.3" stroke="#1a1a1a" stroke-width="1.3"/>
<text x="60.2" y="505.4" font-size="7.3" text-anchor="middle" fill="#231f20" stroke="#231f20" stroke-width="0.24" textLength="17" lengthAdjust="spacingAndGlyphs" >0.5:1</text>
<text x="90.7" y="505.4" font-size="7.3" text-anchor="middle" fill="#231f20" stroke="#231f20" stroke-width="0.24" textLength="9.3" lengthAdjust="spacingAndGlyphs" >1:1</text>
<text x="120.9" y="505.4" font-size="7.3" text-anchor="middle" fill="#231f20" stroke="#231f20" stroke-width="0.24" textLength="10.4" lengthAdjust="spacingAndGlyphs" >2:1</text>
<text x="14.7" y="454" font-size="8.4" text-anchor="middle" fill="#231f20" stroke="#231f20" stroke-width="0.24" textLength="53.4" lengthAdjust="spacingAndGlyphs" transform="rotate(-90 14.7 454)" >Specific lysis (%)</text>
<text x="90.7" y="518.2" font-size="8.6" text-anchor="middle" fill="#231f20" stroke="#231f20" stroke-width="0.24" textLength="9.3" lengthAdjust="spacingAndGlyphs" >E:T</text>
<line x1="45" y1="402" x2="53.5" y2="402" stroke="#5b266b" stroke-width="1.4"/>
<polygon points="47.05,400.02 51.45,400.02 49.25,403.98" fill="#5b266b"/>
<text x="56.5" y="404.0" font-size="7.49" text-anchor="start" fill="#231f20" stroke="#231f20" stroke-width="0.16" textLength="33" lengthAdjust="spacingAndGlyphs" >Neg7CAR</text>
<line x1="95" y1="402" x2="103.5" y2="402" stroke="#134f86" stroke-width="1.4"/>
<rect x="97.35" y="400.1" width="3.8" height="3.8" fill="#134f86"/>
<text x="106.5" y="404.0" font-size="7.49" text-anchor="start" fill="#231f20" stroke="#231f20" stroke-width="0.16" textLength="31" lengthAdjust="spacingAndGlyphs" >KO7CAR</text>
<line x1="45" y1="413.8" x2="53.5" y2="413.8" stroke="#c9112f" stroke-width="1.4"/>
<circle cx="49.25" cy="413.8" r="2.1" fill="#c9112f"/>
<text x="56.5" y="415.8" font-size="7.49" text-anchor="start" fill="#231f20" stroke="#231f20" stroke-width="0.16" textLength="29.5" lengthAdjust="spacingAndGlyphs" >NS7CAR</text>
<line x1="95" y1="413.8" x2="103.5" y2="413.8" stroke="#3db54a" stroke-width="1.4"/>
<polygon points="97.05,411.82 101.45,411.82 99.25,415.78000000000003" fill="#3db54a"/>
<text x="106.5" y="415.8" font-size="7.49" text-anchor="start" fill="#231f20" stroke="#231f20" stroke-width="0.16" textLength="21.5" lengthAdjust="spacingAndGlyphs" >Bulk T</text>
<line x1="60.8" y1="453.4" x2="60.8" y2="465.1" stroke="#333" stroke-width="1.0"/>
<line x1="58.75" y1="453.4" x2="62.849999999999994" y2="453.4" stroke="#111" stroke-width="1.2"/>
<line x1="58.75" y1="465.1" x2="62.849999999999994" y2="465.1" stroke="#111" stroke-width="1.2"/>
<line x1="91.1" y1="448.5" x2="91.1" y2="455" stroke="#333" stroke-width="1.0"/>
<line x1="89.05" y1="448.5" x2="93.14999999999999" y2="448.5" stroke="#111" stroke-width="1.2"/>
<line x1="89.05" y1="455" x2="93.14999999999999" y2="455" stroke="#111" stroke-width="1.2"/>
<line x1="91.1" y1="459.5" x2="91.1" y2="464.2" stroke="#333" stroke-width="1.0"/>
<line x1="89.05" y1="459.5" x2="93.14999999999999" y2="459.5" stroke="#111" stroke-width="1.2"/>
<line x1="89.05" y1="464.2" x2="93.14999999999999" y2="464.2" stroke="#111" stroke-width="1.2"/>
<line x1="121.2" y1="436.9" x2="121.2" y2="447" stroke="#333" stroke-width="1.0"/>
<line x1="119.15" y1="436.9" x2="123.25" y2="436.9" stroke="#111" stroke-width="1.2"/>
<line x1="119.15" y1="447" x2="123.25" y2="447" stroke="#111" stroke-width="1.2"/>
<line x1="121.2" y1="448.2" x2="121.2" y2="455.1" stroke="#333" stroke-width="1.0"/>
<line x1="119.15" y1="448.2" x2="123.25" y2="448.2" stroke="#111" stroke-width="1.2"/>
<line x1="119.15" y1="455.1" x2="123.25" y2="455.1" stroke="#111" stroke-width="1.2"/>
<line x1="121.2" y1="479.5" x2="121.2" y2="493" stroke="#333" stroke-width="1.0"/>
<line x1="119.15" y1="479.5" x2="123.25" y2="479.5" stroke="#111" stroke-width="1.2"/>
<line x1="119.15" y1="493" x2="123.25" y2="493" stroke="#111" stroke-width="1.2"/>
<line x1="60.8" y1="487.8" x2="60.8" y2="493" stroke="#333" stroke-width="1.0"/>
<line x1="58.75" y1="487.8" x2="62.849999999999994" y2="487.8" stroke="#111" stroke-width="1.2"/>
<line x1="58.75" y1="493" x2="62.849999999999994" y2="493" stroke="#111" stroke-width="1.2"/>
<line x1="91.1" y1="488.2" x2="91.1" y2="493" stroke="#333" stroke-width="1.0"/>
<line x1="89.05" y1="488.2" x2="93.14999999999999" y2="488.2" stroke="#111" stroke-width="1.2"/>
<line x1="89.05" y1="493" x2="93.14999999999999" y2="493" stroke="#111" stroke-width="1.2"/>
<polyline points="60.8,489.2 91.1,489.7 121.2,484.6" fill="none" stroke="#3db54a" stroke-width="1.15"/>
<polygon points="58.599999999999994,487.21999999999997 63.0,487.21999999999997 60.8,491.18" fill="#3db54a"/>
<polygon points="88.89999999999999,487.71999999999997 93.3,487.71999999999997 91.1,491.68" fill="#3db54a"/>
<polygon points="119.0,482.62 123.4,482.62 121.2,486.58000000000004" fill="#3db54a"/>
<polyline points="60.8,472.8 91.1,461.5 121.2,450" fill="none" stroke="#5b266b" stroke-width="1.15"/>
<polygon points="58.599999999999994,470.82 63.0,470.82 60.8,474.78000000000003" fill="#5b266b"/>
<polygon points="88.89999999999999,459.52 93.3,459.52 91.1,463.48" fill="#5b266b"/>
<polygon points="119.0,448.02 123.4,448.02 121.2,451.98" fill="#5b266b"/>
<polyline points="60.8,462.3 91.1,451.8 121.2,440.5" fill="none" stroke="#c9112f" stroke-width="1.15"/>
<circle cx="60.8" cy="462.3" r="2.1" fill="#c9112f"/>
<circle cx="91.1" cy="451.8" r="2.1" fill="#c9112f"/>
<circle cx="121.2" cy="440.5" r="2.1" fill="#c9112f"/>
<polyline points="60.8,458.9 91.1,449.7 121.2,443.8" fill="none" stroke="#134f86" stroke-width="1.15"/>
<rect x="58.9" y="457.0" width="3.8" height="3.8" fill="#134f86"/>
<rect x="89.19999999999999" y="447.8" width="3.8" height="3.8" fill="#134f86"/>
<rect x="119.3" y="441.90000000000003" width="3.8" height="3.8" fill="#134f86"/>
<polyline points="124.0,443.5 126.5,443.5 126.5,451.3 124.0,451.3" fill="none" stroke="#2e2e2e" stroke-width="0.9"/>
<text x="133.5" y="446.2" font-size="7.28" text-anchor="middle" fill="#231f20" stroke="#231f20" stroke-width="0.16" textLength="23.6" lengthAdjust="spacingAndGlyphs" transform="rotate(-90 133.5 446.2)" >p=0.02</text>
<polyline points="136.0,437.3 140.8,437.3 140.8,451.3 136.0,451.3" fill="none" stroke="#2e2e2e" stroke-width="0.9"/>
<text x="150.2" y="443" font-size="7.28" text-anchor="middle" fill="#231f20" stroke="#231f20" stroke-width="0.16" textLength="28" lengthAdjust="spacingAndGlyphs" transform="rotate(-90 150.2 443)" >p=0.002</text>
<line x1="198.5" y1="407.5" x2="198.5" y2="493.95" stroke="#1a1a1a" stroke-width="1.3"/>
<line x1="195.2" y1="411.3" x2="198.5" y2="411.3" stroke="#1a1a1a" stroke-width="1.3"/>
<text x="193" y="414.0" font-size="8.45" text-anchor="end" fill="#231f20" stroke="#231f20" stroke-width="0.16" textLength="17.0" lengthAdjust="spacingAndGlyphs" >2500</text>
<line x1="195.2" y1="427.5" x2="198.5" y2="427.5" stroke="#1a1a1a" stroke-width="1.3"/>
<text x="193" y="430.2" font-size="8.45" text-anchor="end" fill="#231f20" stroke="#231f20" stroke-width="0.16" textLength="17.0" lengthAdjust="spacingAndGlyphs" >2000</text>
<line x1="195.2" y1="444" x2="198.5" y2="444" stroke="#1a1a1a" stroke-width="1.3"/>
<text x="193" y="446.7" font-size="8.45" text-anchor="end" fill="#231f20" stroke="#231f20" stroke-width="0.16" textLength="17.0" lengthAdjust="spacingAndGlyphs" >1500</text>
<line x1="195.2" y1="460.5" x2="198.5" y2="460.5" stroke="#1a1a1a" stroke-width="1.3"/>
<text x="193" y="463.2" font-size="8.45" text-anchor="end" fill="#231f20" stroke="#231f20" stroke-width="0.16" textLength="17.0" lengthAdjust="spacingAndGlyphs" >1000</text>
<line x1="195.2" y1="477" x2="198.5" y2="477" stroke="#1a1a1a" stroke-width="1.3"/>
<text x="193" y="479.7" font-size="8.45" text-anchor="end" fill="#231f20" stroke="#231f20" stroke-width="0.16" >500</text>
<line x1="195.2" y1="493.3" x2="198.5" y2="493.3" stroke="#1a1a1a" stroke-width="1.3"/>
<text x="193" y="496.0" font-size="8.45" text-anchor="end" fill="#231f20" stroke="#231f20" stroke-width="0.16" >0</text>
<line x1="198.5" y1="493.3" x2="253" y2="493.3" stroke="#1a1a1a" stroke-width="1.3"/>
<line x1="209.75" y1="427" x2="209.75" y2="415.8" stroke="#2e2e2e" stroke-width="0.9"/>
<line x1="206.75" y1="415.8" x2="212.75" y2="415.8" stroke="#2e2e2e" stroke-width="0.9"/>
<rect x="204.5" y="427" width="10.5" height="66.30000000000001" fill="#c9112f" stroke="#b30c27" stroke-width="0.6"/>
<line x1="225.75" y1="460.8" x2="225.75" y2="447" stroke="#2e2e2e" stroke-width="0.9"/>
<line x1="222.75" y1="447" x2="228.75" y2="447" stroke="#2e2e2e" stroke-width="0.9"/>
<rect x="220.5" y="460.8" width="10.5" height="32.5" fill="#134f86" stroke="#0c4277" stroke-width="0.6"/>
<line x1="242.25" y1="478" x2="242.25" y2="468.3" stroke="#2e2e2e" stroke-width="0.9"/>
<line x1="239.25" y1="468.3" x2="245.25" y2="468.3" stroke="#2e2e2e" stroke-width="0.9"/>
<rect x="237" y="478" width="10.5" height="15.300000000000011" fill="#5b266b" stroke="#4a165f" stroke-width="0.6"/>
<line x1="209" y1="401.5" x2="242" y2="401.5" stroke="#2e2e2e" stroke-width="0.9"/>
<text x="226.3" y="397.8" font-size="7.28" text-anchor="middle" fill="#231f20" stroke="#231f20" stroke-width="0.16" textLength="27.5" lengthAdjust="spacingAndGlyphs" >p=0.004</text>
<line x1="209" y1="413" x2="225" y2="413" stroke="#2e2e2e" stroke-width="0.9"/>
<text x="218" y="410.3" font-size="7.28" text-anchor="middle" fill="#231f20" stroke="#231f20" stroke-width="0.16" textLength="23" lengthAdjust="spacingAndGlyphs" >p=0.03</text>
<line x1="227.5" y1="443.5" x2="242.5" y2="443.5" stroke="#2e2e2e" stroke-width="0.9"/>
<text x="235" y="440" font-size="7.28" text-anchor="middle" fill="#231f20" stroke="#231f20" stroke-width="0.16" textLength="23" lengthAdjust="spacingAndGlyphs" >p=0.16</text>
<text x="168.6" y="448.9" font-size="8.3" text-anchor="middle" fill="#231f20" stroke="#231f20" stroke-width="0.24" textLength="44" lengthAdjust="spacingAndGlyphs" transform="rotate(-90 168.6 448.9)" >IFN-γ (pg/ml)</text>
<line x1="299.3" y1="404.3" x2="299.3" y2="493.95" stroke="#1a1a1a" stroke-width="1.3"/>
<line x1="296.0" y1="410" x2="299.3" y2="410" stroke="#1a1a1a" stroke-width="1.3"/>
<text x="294.3" y="412.7" font-size="8.24" text-anchor="end" fill="#231f20" stroke="#231f20" stroke-width="0.16" >150</text>
<line x1="296.0" y1="437.5" x2="299.3" y2="437.5" stroke="#1a1a1a" stroke-width="1.3"/>
<text x="294.3" y="440.2" font-size="8.24" text-anchor="end" fill="#231f20" stroke="#231f20" stroke-width="0.16" >100</text>
<line x1="296.0" y1="465.5" x2="299.3" y2="465.5" stroke="#1a1a1a" stroke-width="1.3"/>
<text x="294.3" y="468.2" font-size="8.24" text-anchor="end" fill="#231f20" stroke="#231f20" stroke-width="0.16" >50</text>
<line x1="296.0" y1="493.3" x2="299.3" y2="493.3" stroke="#1a1a1a" stroke-width="1.3"/>
<text x="294.3" y="496.0" font-size="8.24" text-anchor="end" fill="#231f20" stroke="#231f20" stroke-width="0.16" >0</text>
<line x1="299.3" y1="493.3" x2="349.5" y2="493.3" stroke="#1a1a1a" stroke-width="1.3"/>
<line x1="309.25" y1="443" x2="309.25" y2="433.3" stroke="#2e2e2e" stroke-width="0.9"/>
<line x1="306.25" y1="433.3" x2="312.25" y2="433.3" stroke="#2e2e2e" stroke-width="0.9"/>
<rect x="304" y="443" width="10.5" height="50.30000000000001" fill="#c9112f" stroke="#b30c27" stroke-width="0.6"/>
<line x1="324.15" y1="443.3" x2="324.15" y2="429.5" stroke="#2e2e2e" stroke-width="0.9"/>
<line x1="321.15" y1="429.5" x2="327.15" y2="429.5" stroke="#2e2e2e" stroke-width="0.9"/>
<rect x="318.8" y="443.3" width="10.699999999999989" height="50.0" fill="#134f86" stroke="#0c4277" stroke-width="0.6"/>
<line x1="338.8" y1="459" x2="338.8" y2="450.8" stroke="#2e2e2e" stroke-width="0.9"/>
<line x1="335.8" y1="450.8" x2="341.8" y2="450.8" stroke="#2e2e2e" stroke-width="0.9"/>
<rect x="333.3" y="459" width="11.0" height="34.30000000000001" fill="#5b266b" stroke="#4a165f" stroke-width="0.6"/>
<line x1="308" y1="409.3" x2="340.8" y2="409.3" stroke="#2e2e2e" stroke-width="0.9"/>
<text x="325.5" y="404.5" font-size="7.28" text-anchor="middle" fill="#231f20" stroke="#231f20" stroke-width="0.16" textLength="23" lengthAdjust="spacingAndGlyphs" >p=0.09</text>
<line x1="308" y1="424.3" x2="322.5" y2="424.3" stroke="#2e2e2e" stroke-width="0.9"/>
<text x="313.8" y="420.3" font-size="7.28" text-anchor="middle" fill="#231f20" stroke="#231f20" stroke-width="0.16" textLength="23" lengthAdjust="spacingAndGlyphs" >p=0.99</text>
<line x1="327.5" y1="424.3" x2="341.3" y2="424.3" stroke="#2e2e2e" stroke-width="0.9"/>
<text x="339.5" y="420.3" font-size="7.28" text-anchor="middle" fill="#231f20" stroke="#231f20" stroke-width="0.16" textLength="23" lengthAdjust="spacingAndGlyphs" >p=0.15</text>
<text x="274.8" y="448.3" font-size="8.2" text-anchor="middle" fill="#231f20" stroke="#231f20" stroke-width="0.24" textLength="46.3" lengthAdjust="spacingAndGlyphs" transform="rotate(-90 274.8 448.3)" >TNF-α (pg/ml)</text>
<rect x="288" y="503.0" width="5" height="5" fill="#c9112f"/>
<text x="296.3" y="508" font-size="7.49" text-anchor="start" fill="#231f20" stroke="#231f20" stroke-width="0.16" textLength="29.3" lengthAdjust="spacingAndGlyphs" >NS7CAR</text>
<rect x="331.3" y="503.0" width="5" height="5" fill="#5b266b"/>
<text x="339.5" y="508" font-size="7.49" text-anchor="start" fill="#231f20" stroke="#231f20" stroke-width="0.16" textLength="32.5" lengthAdjust="spacingAndGlyphs" >Neg7CAR</text>
<rect x="288" y="513.0" width="5" height="5" fill="#134f86"/>
<text x="296.3" y="518" font-size="7.49" text-anchor="start" fill="#231f20" stroke="#231f20" stroke-width="0.16" textLength="30" lengthAdjust="spacingAndGlyphs" >KO7CAR</text>
<line x1="405.4" y1="402.5" x2="405.4" y2="493.3" stroke="#1a1a1a" stroke-width="1.3"/>
<line x1="401.5" y1="408.1" x2="405.4" y2="408.1" stroke="#1a1a1a" stroke-width="1.3"/>
<text x="396" y="410.5" font-size="7.3" text-anchor="end" fill="#231f20" stroke="#231f20" stroke-width="0.24" textLength="8.5" lengthAdjust="spacingAndGlyphs" >10</text>
<text x="396.1" y="407.5" font-size="4.7" text-anchor="start" fill="#231f20" stroke="#231f20" stroke-width="0.05" >9</text>
<line x1="401.5" y1="429.4" x2="405.4" y2="429.4" stroke="#1a1a1a" stroke-width="1.3"/>
<text x="396" y="431.79999999999995" font-size="7.3" text-anchor="end" fill="#231f20" stroke="#231f20" stroke-width="0.24" textLength="8.5" lengthAdjust="spacingAndGlyphs" >10</text>
<text x="396.1" y="428.79999999999995" font-size="4.7" text-anchor="start" fill="#231f20" stroke="#231f20" stroke-width="0.05" >8</text>
<line x1="401.5" y1="450.6" x2="405.4" y2="450.6" stroke="#1a1a1a" stroke-width="1.3"/>
<text x="396" y="453.0" font-size="7.3" text-anchor="end" fill="#231f20" stroke="#231f20" stroke-width="0.24" textLength="8.5" lengthAdjust="spacingAndGlyphs" >10</text>
<text x="396.1" y="450.0" font-size="4.7" text-anchor="start" fill="#231f20" stroke="#231f20" stroke-width="0.05" >7</text>
<line x1="401.5" y1="471.9" x2="405.4" y2="471.9" stroke="#1a1a1a" stroke-width="1.3"/>
<text x="396" y="474.29999999999995" font-size="7.3" text-anchor="end" fill="#231f20" stroke="#231f20" stroke-width="0.24" textLength="8.5" lengthAdjust="spacingAndGlyphs" >10</text>
<text x="396.1" y="471.29999999999995" font-size="4.7" text-anchor="start" fill="#231f20" stroke="#231f20" stroke-width="0.05" >6</text>
<line x1="401.5" y1="493.3" x2="405.4" y2="493.3" stroke="#1a1a1a" stroke-width="1.3"/>
<text x="396" y="495.7" font-size="7.3" text-anchor="end" fill="#231f20" stroke="#231f20" stroke-width="0.24" textLength="8.5" lengthAdjust="spacingAndGlyphs" >10</text>
<text x="396.1" y="492.7" font-size="4.7" text-anchor="start" fill="#231f20" stroke="#231f20" stroke-width="0.05" >5</text>
<line x1="405.4" y1="493.3" x2="512.8" y2="493.3" stroke="#1a1a1a" stroke-width="1.3"/>
<line x1="405.4" y1="493.3" x2="405.4" y2="496.3" stroke="#1a1a1a" stroke-width="1.3"/>
<text x="405.4" y="505.2" font-size="7.6" text-anchor="middle" fill="#231f20" stroke="#231f20" stroke-width="0.16" >0</text>
<line x1="431.1" y1="493.3" x2="431.1" y2="496.3" stroke="#1a1a1a" stroke-width="1.3"/>
<text x="431.1" y="505.2" font-size="7.6" text-anchor="middle" fill="#231f20" stroke="#231f20" stroke-width="0.16" >5</text>
<line x1="457.1" y1="493.3" x2="457.1" y2="496.3" stroke="#1a1a1a" stroke-width="1.3"/>
<text x="457.1" y="505.2" font-size="7.6" text-anchor="middle" fill="#231f20" stroke="#231f20" stroke-width="0.16" >10</text>
<line x1="483.1" y1="493.3" x2="483.1" y2="496.3" stroke="#1a1a1a" stroke-width="1.3"/>
<text x="483.1" y="505.2" font-size="7.6" text-anchor="middle" fill="#231f20" stroke="#231f20" stroke-width="0.16" >15</text>
<line x1="508.4" y1="493.3" x2="508.4" y2="496.3" stroke="#1a1a1a" stroke-width="1.3"/>
<text x="508.4" y="505.2" font-size="7.6" text-anchor="middle" fill="#231f20" stroke="#231f20" stroke-width="0.16" >20</text>
<text x="459.1" y="516.5" font-size="8.6" text-anchor="middle" fill="#231f20" stroke="#231f20" stroke-width="0.24" textLength="61.8" lengthAdjust="spacingAndGlyphs" >Days after injection</text>
<text x="380.8" y="450.6" font-size="8.6" text-anchor="middle" fill="#231f20" stroke="#231f20" stroke-width="0.24" textLength="44.9" lengthAdjust="spacingAndGlyphs" transform="rotate(-90 380.8 450.6)" >Total flux(p/s)</text>
<line x1="411.2" y1="461.5" x2="411.2" y2="468" stroke="#333" stroke-width="1.0"/>
<line x1="409.4" y1="461.5" x2="413.0" y2="461.5" stroke="#111" stroke-width="1.2"/>
<line x1="409.4" y1="468" x2="413.0" y2="468" stroke="#111" stroke-width="1.2"/>
<line x1="445.2" y1="459.6" x2="445.2" y2="462" stroke="#333" stroke-width="1.0"/>
<line x1="443.4" y1="459.6" x2="447.0" y2="459.6" stroke="#111" stroke-width="1.2"/>
<line x1="443.4" y1="462" x2="447.0" y2="462" stroke="#111" stroke-width="1.2"/>
<line x1="482.3" y1="427.3" x2="482.3" y2="434" stroke="#333" stroke-width="1.0"/>
<line x1="480.5" y1="427.3" x2="484.1" y2="427.3" stroke="#111" stroke-width="1.2"/>
<line x1="480.5" y1="434" x2="484.1" y2="434" stroke="#111" stroke-width="1.2"/>
<polyline points="411.2,467.9 445.2,476 482.3,475.6" fill="none" stroke="#c9112f" stroke-width="1.15"/>
<polygon points="409.0,465.91999999999996 413.4,465.91999999999996 411.2,469.88" fill="#c9112f"/>
<polygon points="443.0,474.02 447.4,474.02 445.2,477.98" fill="#c9112f"/>
<polygon points="480.1,473.62 484.5,473.62 482.3,477.58000000000004" fill="#c9112f"/>
<polyline points="411.2,467.9 445.2,476 482.3,476.5" fill="none" stroke="#134f86" stroke-width="1.15"/>
<rect x="409.3" y="466.0" width="3.8" height="3.8" fill="#134f86"/>
<rect x="443.3" y="474.1" width="3.8" height="3.8" fill="#134f86"/>
<rect x="480.40000000000003" y="474.6" width="3.8" height="3.8" fill="#134f86"/>
<polyline points="411.2,467.9 445.2,462.1 482.3,433.7" fill="none" stroke="#5b266b" stroke-width="1.15"/>
<circle cx="411.2" cy="467.9" r="2.1" fill="#5b266b"/>
<circle cx="445.2" cy="462.1" r="2.1" fill="#5b266b"/>
<circle cx="482.3" cy="433.7" r="2.1" fill="#5b266b"/>
<polyline points="411.2,467.9 445.2,465.4 482.3,437.9" fill="none" stroke="#3db54a" stroke-width="1.15"/>
<circle cx="411.2" cy="467.9" r="2.1" fill="#3db54a"/>
<circle cx="445.2" cy="465.4" r="2.1" fill="#3db54a"/>
<circle cx="482.3" cy="437.9" r="2.1" fill="#3db54a"/>
<line x1="411.9" y1="407.1" x2="420.2" y2="407.1" stroke="#5b266b" stroke-width="1.4"/>
<circle cx="416.04999999999995" cy="407.1" r="2.1" fill="#5b266b"/>
<text x="422.1" y="409.20000000000005" font-size="7.49" text-anchor="start" fill="#231f20" stroke="#231f20" stroke-width="0.16" textLength="13" lengthAdjust="spacingAndGlyphs" >PBS</text>
<line x1="411.9" y1="416.3" x2="420.2" y2="416.3" stroke="#3db54a" stroke-width="1.4"/>
<circle cx="416.04999999999995" cy="416.3" r="2.1" fill="#3db54a"/>
<text x="422.1" y="418.40000000000003" font-size="7.49" text-anchor="start" fill="#231f20" stroke="#231f20" stroke-width="0.16" textLength="31.7" lengthAdjust="spacingAndGlyphs" >T cells Ctl</text>
<line x1="411.9" y1="426" x2="420.2" y2="426" stroke="#c9112f" stroke-width="1.4"/>
<polygon points="413.84999999999997,424.02 418.24999999999994,424.02 416.04999999999995,427.98" fill="#c9112f"/>
<text x="422.1" y="428.1" font-size="7.49" text-anchor="start" fill="#231f20" stroke="#231f20" stroke-width="0.16" textLength="29" lengthAdjust="spacingAndGlyphs" >NS7CAR</text>
<line x1="411.9" y1="436.5" x2="420.2" y2="436.5" stroke="#134f86" stroke-width="1.4"/>
<rect x="414.15" y="434.6" width="3.8" height="3.8" fill="#134f86"/>
<text x="422.1" y="438.6" font-size="7.49" text-anchor="start" fill="#231f20" stroke="#231f20" stroke-width="0.16" textLength="30" lengthAdjust="spacingAndGlyphs" >KO7CAR</text>
<defs><filter id="bl1" x="-30%" y="-80%" width="160%" height="260%"><feGaussianBlur stdDeviation="0.55"/></filter><filter id="bl2" x="-30%" y="-50%" width="160%" height="200%"><feGaussianBlur stdDeviation="1.1"/></filter><filter id="bl3" x="-30%" y="-50%" width="160%" height="200%"><feGaussianBlur stdDeviation="0.8"/></filter><linearGradient id="smear" x1="0" y1="0" x2="0" y2="1"><stop offset="0" stop-color="#000" stop-opacity="0.55"/><stop offset="1" stop-color="#000" stop-opacity="0"/></linearGradient></defs>
<text x="444.4" y="246.7" font-size="7.0" text-anchor="middle" fill="#231f20" textLength="15.5" lengthAdjust="spacingAndGlyphs" >Neg7</text>
<text x="444.4" y="253.7" font-size="7.0" text-anchor="middle" fill="#231f20" textLength="12.6" lengthAdjust="spacingAndGlyphs" >CAR</text>
<text x="464.6" y="248.4" font-size="7.0" text-anchor="middle" fill="#231f20" textLength="12.2" lengthAdjust="spacingAndGlyphs" >NS7</text>
<text x="464.6" y="255.4" font-size="7.0" text-anchor="middle" fill="#231f20" textLength="12.7" lengthAdjust="spacingAndGlyphs" >CAR</text>
<text x="484.5" y="248.4" font-size="7.0" text-anchor="middle" fill="#231f20" textLength="12.8" lengthAdjust="spacingAndGlyphs" >KO7</text>
<text x="484.5" y="255.4" font-size="7.0" text-anchor="middle" fill="#231f20" textLength="12.8" lengthAdjust="spacingAndGlyphs" >CAR</text>
<text x="501.8" y="251" font-size="7.0" text-anchor="middle" fill="#231f20" textLength="12.8" lengthAdjust="spacingAndGlyphs" >T Ctl</text>
<line x1="413" y1="256.1" x2="413" y2="290.8" stroke="#555" stroke-width="1.3"/>
<line x1="413" y1="300.1" x2="413" y2="334.6" stroke="#555" stroke-width="1.3"/>
<text x="410" y="274.9" font-size="9.4" text-anchor="middle" fill="#231f20" stroke="#231f20" stroke-width="0.24" textLength="11.9" lengthAdjust="spacingAndGlyphs" transform="rotate(-90 410 274.9)" >WB</text>
<text x="409.9" y="316.9" font-size="9.0" text-anchor="middle" fill="#231f20" stroke="#231f20" stroke-width="0.24" textLength="22.3" lengthAdjust="spacingAndGlyphs" transform="rotate(-90 409.9 316.9)" >RT-PCR</text>
<text x="415.1" y="267.1" font-size="6.4" text-anchor="start" fill="#231f20" textLength="18.9" lengthAdjust="spacingAndGlyphs" >β-actin</text>
<text x="434" y="284" font-size="6.6" text-anchor="end" fill="#231f20" textLength="12.5" lengthAdjust="spacingAndGlyphs" >CD7</text>
<text x="433.8" y="319.9" font-size="6.8" text-anchor="end" fill="#231f20" textLength="12.8" lengthAdjust="spacingAndGlyphs" >CD7</text>
<rect x="436.8" y="257.9" width="76" height="10.9" fill="#acacac"/>
<g filter="url(#bl1)" fill="#0d0d0d"><path d="M438.8,262.9 Q445,262.2 451.6,262.9 L451.6,265.9 Q445,266.5 438.8,265.9Z"/><path d="M456.3,262.7 Q463,261.6 470.9,261.9 L470.9,265.4 Q463,266 456.3,266.3Z"/><path d="M475.8,261 Q482,260.5 489.7,261 L489.7,264.2 Q482,264.6 475.8,264.2Z"/><path d="M497.3,261.8 Q504,261.6 511.2,262.6 L511.2,265.7 Q504,265.9 497.3,265.3Z"/></g>
<rect x="436.8" y="270.3" width="76" height="23.3" fill="#ececec"/>
<g filter="url(#bl2)"><rect x="455.5" y="281" width="13.5" height="9" fill="url(#smear)"/><rect x="499.5" y="282" width="13" height="8" fill="url(#smear)"/></g>
<g filter="url(#bl3)" fill="#050505"><rect x="455.2" y="274.6" width="13.8" height="7.6" rx="3" ry="3"/><rect x="499" y="271.9" width="13.6" height="11.6" rx="4.5" ry="4.5"/></g>
<rect x="436.8" y="295.7" width="76" height="41.1" fill="#1b1b1b"/>
<rect x="437.3" y="296.2" width="75" height="40.1" fill="none" stroke="#0c0c0c" stroke-width="1"/>
<g filter="url(#bl3)"><rect x="455.6" y="314.4" width="16.2" height="5.6" rx="1.5" fill="#fbfbfb"/><rect x="476.2" y="314.6" width="15.4" height="2.6" rx="1" fill="#8a8a8a"/><rect x="495.5" y="315.8" width="16.2" height="5.6" rx="1.5" fill="#fbfbfb"/></g>
</svg></body></html>
